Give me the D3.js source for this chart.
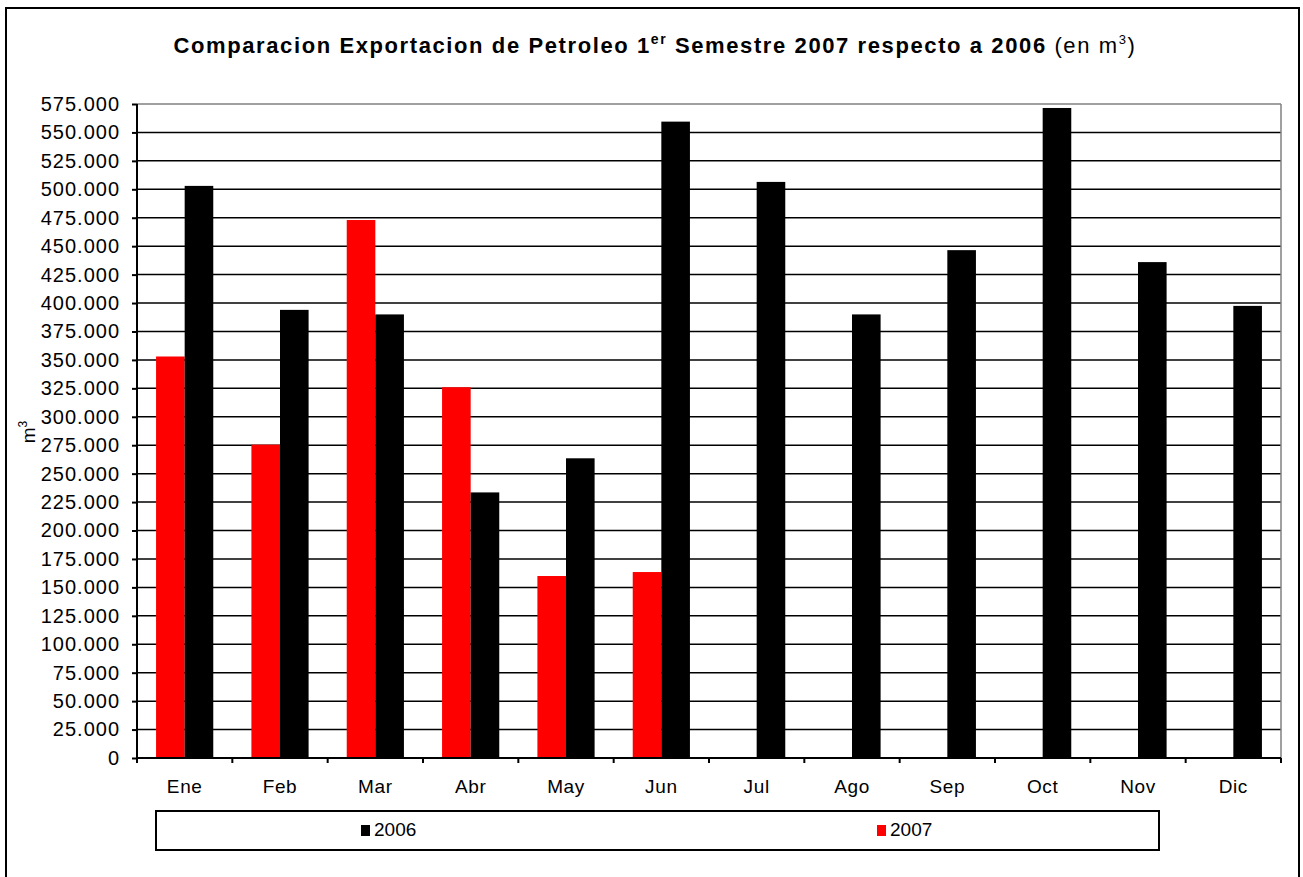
<!DOCTYPE html>
<html>
<head>
<meta charset="utf-8">
<script src="https://cdn.jsdelivr.net/npm/d3@7"></script>
<style>
  body { margin: 0; background: #fff; }
  svg { display: block; font-family: "Liberation Sans", Arial, sans-serif; }
</style>
</head>
<body>
<svg width="1303" height="877"></svg>
<script>
var months = ["Ene", "Feb", "Mar", "Abr", "May", "Jun", "Jul", "Ago", "Sep", "Oct", "Nov", "Dic"];
var values2006 = [503000, 394000, 390000, 233500, 263500, 559500, 506500, 390000, 446500, 571500, 436000, 397500];
var values2007 = [353000, 275500, 473000, 326000, 160000, 163500];
var seriesNames = ["2007", "2006"];
var yTicks = d3.range(0, 575001, 25000);

var svg = d3.select("svg");
var colors = { "2006": "#000000", "2007": "#ff0000" };

var plotLeft = 137, plotRight = 1281, plotTop = 104, plotBottom = 758;

var es = d3.formatLocale({ decimal: ",", thousands: ".", grouping: [3], currency: ["", ""] });
var fmt = es.format(",.0f");

// outer frame
svg.append("rect")
  .attr("x", 6).attr("y", 8)
  .attr("width", 1293).attr("height", 880)
  .attr("fill", "#fff").attr("stroke", "#000").attr("stroke-width", 2);

var y = d3.scaleLinear().domain([0, 575000]).range([plotBottom, plotTop]);

var x0 = d3.scaleBand()
  .domain(months)
  .range([plotLeft, plotRight])
  .paddingInner(0.4)
  .paddingOuter(0.2);

var x1 = d3.scaleBand()
  .domain(seriesNames)
  .range([0, x0.bandwidth()]);

var step = x0.step();

// gridlines
svg.append("g")
  .selectAll("line")
  .data(yTicks.filter(function(d) { return d > 0; }))
  .enter().append("line")
    .attr("x1", plotLeft).attr("x2", plotRight)
    .attr("y1", function(d) { return y(d); })
    .attr("y2", function(d) { return y(d); })
    .attr("stroke", function(d) { return d === 575000 ? "#808080" : "#000"; })
    .attr("stroke-width", 1.5);

// right border of plot area
svg.append("line")
  .attr("x1", plotRight).attr("x2", plotRight)
  .attr("y1", plotTop).attr("y2", plotBottom)
  .attr("stroke", "#808080").attr("stroke-width", 1.5);

// bars
var rows = months.map(function(m, i) {
  return { month: m, "2006": values2006[i], "2007": values2007[i] };
});

var groups = svg.append("g")
  .selectAll("g")
  .data(rows)
  .enter().append("g")
    .attr("transform", function(d) { return "translate(" + x0(d.month) + ",0)"; });

groups.selectAll("rect")
  .data(function(d) {
    return seriesNames
      .filter(function(s) { return d[s] !== undefined; })
      .map(function(s) { return { key: s, value: d[s] }; });
  })
  .enter().append("rect")
    .attr("x", function(d) { return x1(d.key); })
    .attr("y", function(d) { return y(d.value); })
    .attr("width", x1.bandwidth())
    .attr("height", function(d) { return plotBottom - y(d.value); })
    .attr("fill", function(d) { return colors[d.key]; });

// y axis
var yAxis = svg.append("g")
  .attr("transform", "translate(" + plotLeft + ",0)")
  .call(d3.axisLeft(y).tickValues(yTicks).tickFormat(fmt).tickSize(5).tickPadding(12));
yAxis.select(".domain").attr("stroke", "#000").attr("stroke-width", 2).attr("d", "M0," + plotTop + "V" + (plotBottom + 5));
yAxis.selectAll(".tick line").attr("stroke", "#000").attr("stroke-width", 2);
yAxis.selectAll(".tick text")
  .attr("fill", "#000")
  .style("font-size", "20px")
  .style("letter-spacing", "1px")
  .style("font-family", "Liberation Sans, Arial, sans-serif");

// x axis
var xAxis = svg.append("g")
  .attr("transform", "translate(0," + plotBottom + ")");
xAxis.append("line")
  .attr("x1", plotLeft).attr("x2", plotRight)
  .attr("stroke", "#000").attr("stroke-width", 2);
xAxis.selectAll(".xtick")
  .data(d3.range(0, months.length + 1))
  .enter().append("line")
    .attr("x1", function(i) { return plotLeft + i * step; })
    .attr("x2", function(i) { return plotLeft + i * step; })
    .attr("y1", 0).attr("y2", 5)
    .attr("stroke", "#000").attr("stroke-width", 2);
xAxis.selectAll(".xlabel")
  .data(months)
  .enter().append("text")
    .attr("x", function(d) { return x0(d) + x0.bandwidth() / 2; })
    .attr("y", 35)
    .attr("text-anchor", "middle")
    .style("font-size", "19px")
    .style("letter-spacing", "0.6px")
    .text(function(d) { return d; });

// y axis title
var yt = svg.append("text")
  .attr("transform", "translate(35,432) rotate(-90)")
  .attr("text-anchor", "middle")
  .style("font-size", "19px");
yt.append("tspan").text("m");
yt.append("tspan").attr("dy", -8).style("font-size", "12px").text("3");

// title
var title = svg.append("text")
  .attr("x", 655).attr("y", 53)
  .attr("text-anchor", "middle")
  .style("font-size", "22px")
  .style("letter-spacing", "1.6px");
title.append("tspan").style("font-weight", "bold").text("Comparacion Exportacion de Petroleo 1");
title.append("tspan").style("font-weight", "bold").style("font-size", "14px").attr("dy", -9).text("er");
title.append("tspan").style("font-weight", "bold").attr("dy", 9).text(" Semestre 2007 respecto a 2006");
title.append("tspan").text(" (en m");
title.append("tspan").style("font-size", "13px").attr("dy", -9).text("3");
title.append("tspan").attr("dy", 9).text(")");

// legend
var legend = svg.append("g");
legend.append("rect")
  .attr("x", 156).attr("y", 811)
  .attr("width", 1003).attr("height", 39)
  .attr("fill", "#fff").attr("stroke", "#000").attr("stroke-width", 2);

var legendItems = [
  { key: "2006", x: 361 },
  { key: "2007", x: 877 }
];
var li = legend.selectAll(".item")
  .data(legendItems)
  .enter().append("g")
    .attr("transform", function(d) { return "translate(" + d.x + ",825)"; });
li.append("rect")
  .attr("width", 9).attr("height", 11)
  .attr("fill", function(d) { return colors[d.key]; });
li.append("text")
  .attr("x", 13).attr("y", 11)
  .style("font-size", "19px")
  .text(function(d) { return d.key; });
</script>
</body>
</html>
